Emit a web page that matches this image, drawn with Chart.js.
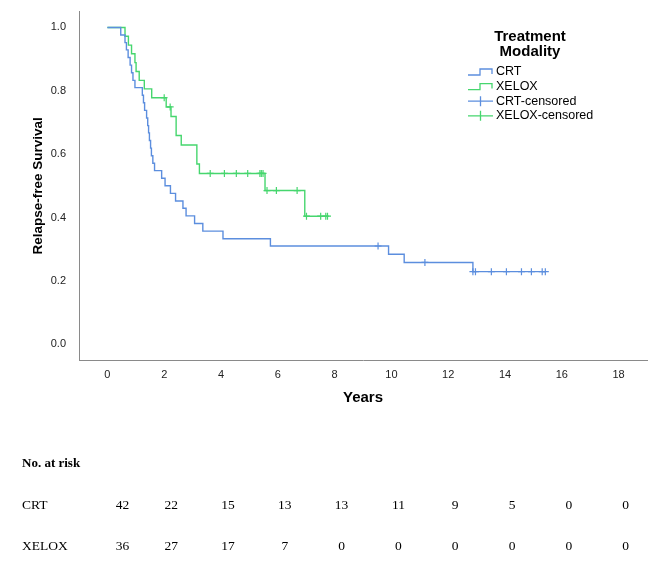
<!DOCTYPE html>
<html>
<head>
<meta charset="utf-8">
<script src="https://cdn.jsdelivr.net/npm/chart.js@4.4.0/dist/chart.umd.min.js"></script>
<style>
  html, body { margin: 0; padding: 0; background: #fff; }
</style>
</head>
<body>
<canvas id="km" width="654" height="565"></canvas>
<script>
// Kaplan-Meier steps (years, survival after the step)
const crtTimes = [0, 0.47, 0.62, 0.67, 0.73, 0.80, 0.85, 0.90, 0.97, 1.23, 1.27, 1.31, 1.38, 1.42, 1.45, 1.48, 1.52, 1.55, 1.60, 1.66, 1.91, 2.03, 2.22, 2.40, 2.66, 2.77, 3.07, 3.36, 4.07, 5.74, 9.90, 10.45, 12.87, 15.42];
const crtSurv = [1.0, 0.976, 0.952, 0.929, 0.905, 0.881, 0.857, 0.833, 0.810, 0.786, 0.762, 0.738, 0.714, 0.690, 0.667, 0.643, 0.619, 0.595, 0.571, 0.548, 0.524, 0.500, 0.476, 0.452, 0.429, 0.405, 0.381, 0.357, 0.333, 0.310, 0.284, 0.258, 0.229, 0.229];
const crtCensTimes = [9.53, 11.18, 12.87, 12.96, 13.52, 14.05, 14.58, 14.93, 15.31, 15.42];
const crtCensSurv = [0.310, 0.258, 0.229, 0.229, 0.229, 0.229, 0.229, 0.229, 0.229, 0.229];

const xeloxTimes = [0, 0.62, 0.74, 0.85, 0.97, 1.01, 1.12, 1.30, 1.56, 2.07, 2.24, 2.42, 2.60, 3.15, 3.24, 5.55, 6.95, 7.75];
const xeloxSurv = [1.0, 0.972, 0.944, 0.917, 0.889, 0.861, 0.833, 0.806, 0.778, 0.749, 0.719, 0.659, 0.629, 0.569, 0.539, 0.485, 0.404, 0.404];
const xeloxCensTimes = [2.00, 2.21, 3.62, 4.12, 4.54, 4.94, 5.37, 5.42, 5.48, 5.62, 5.95, 6.68, 7.01, 7.51, 7.69, 7.75];
const xeloxCensSurv = [0.778, 0.749, 0.539, 0.539, 0.539, 0.539, 0.539, 0.539, 0.539, 0.485, 0.485, 0.485, 0.404, 0.404, 0.404, 0.404];

const xTicks = [0, 2, 4, 6, 8, 10, 12, 14, 16, 18];
const yTicks = [0, 0.2, 0.4, 0.6, 0.8, 1.0];

// numbers at risk
const riskTimes = [0, 2, 4, 6, 8, 10, 12, 14, 16, 18];
const riskGroups = ["CRT", "XELOX"];
const crtRisk = [42, 22, 15, 13, 13, 11, 9, 5, 0, 0];
const xeloxRisk = [36, 27, 17, 7, 0, 0, 0, 0, 0, 0];

const legendTitle = ["Treatment", "Modality"];
const legendLabels = ["CRT", "XELOX", "CRT-censored", "XELOX-censored"];

const blue = "rgb(92,142,222)";
const green = "rgb(70,214,110)";

const pts = (xs, ys) => xs.map((x, i) => ({ x: x, y: ys[i] }));

const legendPlugin = {
  id: "kmLegend",
  afterDraw(chart) {
    const ctx = chart.ctx;
    ctx.save();
    ctx.fillStyle = "#000";
    ctx.font = "bold 15px 'Liberation Sans', Arial, sans-serif";
    ctx.textAlign = "center";
    ctx.textBaseline = "middle";
    ctx.fillText(legendTitle[0], 530, 37);
    ctx.fillText(legendTitle[1], 530, 52);

    const colors = [blue, green, blue, green];
    ctx.font = "12.5px 'Liberation Sans', Arial, sans-serif";
    ctx.textAlign = "left";
    legendLabels.forEach((lab, i) => {
      const y = 72 + i * 14.6;
      const x0 = 468;
      ctx.strokeStyle = colors[i];
      ctx.lineWidth = 1.3;
      ctx.beginPath();
      if (i < 2) {
        ctx.moveTo(x0, y + 3);
        ctx.lineTo(x0 + 12, y + 3);
        ctx.lineTo(x0 + 12, y - 3);
        ctx.lineTo(x0 + 24, y - 3);
        ctx.lineTo(x0 + 24, y + 2);
      } else {
        ctx.moveTo(x0, y);
        ctx.lineTo(x0 + 25, y);
        ctx.moveTo(x0 + 12.5, y - 5);
        ctx.lineTo(x0 + 12.5, y + 5);
      }
      ctx.stroke();
      ctx.fillStyle = "#000";
      ctx.fillText(lab, 496, y);
    });
    ctx.restore();
  }
};

const riskPlugin = {
  id: "riskTable",
  afterDraw(chart) {
    const ctx = chart.ctx;
    const xs = chart.scales.x;
    ctx.save();
    ctx.fillStyle = "#000";
    ctx.textBaseline = "middle";
    ctx.font = "bold 13px 'Liberation Serif', 'Times New Roman', serif";
    ctx.textAlign = "left";
    ctx.fillText("No. at risk", 22, 464);
    ctx.font = "13.5px 'Liberation Serif', 'Times New Roman', serif";
    const rows = [crtRisk, xeloxRisk];
    rows.forEach((row, r) => {
      const y = 505 + r * 41;
      ctx.textAlign = "left";
      ctx.fillText(riskGroups[r], 22, y);
      ctx.textAlign = "center";
      row.forEach((v, i) => {
        const shift = i === 0 ? 15 : 7;
        ctx.fillText(String(v), xs.getPixelForValue(riskTimes[i]) + shift, y);
      });
    });
    ctx.restore();
  }
};

new Chart(document.getElementById("km"), {
  type: "line",
  data: {
    datasets: [
      { label: "CRT", data: pts(crtTimes, crtSurv), borderColor: blue, borderWidth: 1.4, stepped: true, pointRadius: 0, fill: false },
      { label: "XELOX", data: pts(xeloxTimes, xeloxSurv), borderColor: green, borderWidth: 1.4, stepped: true, pointRadius: 0, fill: false },
      { type: "scatter", label: "CRT-censored", data: pts(crtCensTimes, crtCensSurv), borderColor: blue, pointStyle: "cross", pointRadius: 3.5, pointBorderWidth: 1.2, showLine: false },
      { type: "scatter", label: "XELOX-censored", data: pts(xeloxCensTimes, xeloxCensSurv), borderColor: green, pointStyle: "cross", pointRadius: 3.5, pointBorderWidth: 1.2, showLine: false }
    ]
  },
  options: {
    responsive: false,
    animation: false,
    layout: { padding: { left: 0, top: 10, right: 7, bottom: 158 } },
    plugins: { legend: { display: false }, tooltip: { enabled: false } },
    scales: {
      x: {
        type: "linear",
        min: -1,
        max: 19,
        grid: { display: false },
        border: { display: true, color: "#8a8a8a", width: 1 },
        afterBuildTicks: (axis) => { axis.ticks = xTicks.map(v => ({ value: v })); },
        afterFit: (s) => { s.height = 47; },
        ticks: { padding: 0, color: "#222", font: { family: "'Liberation Sans', Arial, sans-serif", size: 11 } },
        title: { display: true, text: "Years", color: "#000", padding: { top: 0, bottom: 0 }, font: { family: "'Liberation Sans', Arial, sans-serif", size: 15, weight: "bold" } }
      },
      y: {
        min: -0.05,
        max: 1.05,
        grid: { display: false },
        border: { display: true, color: "#8a8a8a", width: 1 },
        afterBuildTicks: (axis) => { axis.ticks = yTicks.map(v => ({ value: v })); },
        afterFit: (s) => { s.width = 79; },
        ticks: { padding: 5, color: "#222", callback: (v) => v.toFixed(1), font: { family: "'Liberation Sans', Arial, sans-serif", size: 11 } },
        title: { display: true, text: "Relapse-free Survival", color: "#000", padding: { top: 30, bottom: 0 }, font: { family: "'Liberation Sans', Arial, sans-serif", size: 13.5, weight: "bold" } }
      }
    }
  },
  plugins: [legendPlugin, riskPlugin]
});
</script>
</body>
</html>
